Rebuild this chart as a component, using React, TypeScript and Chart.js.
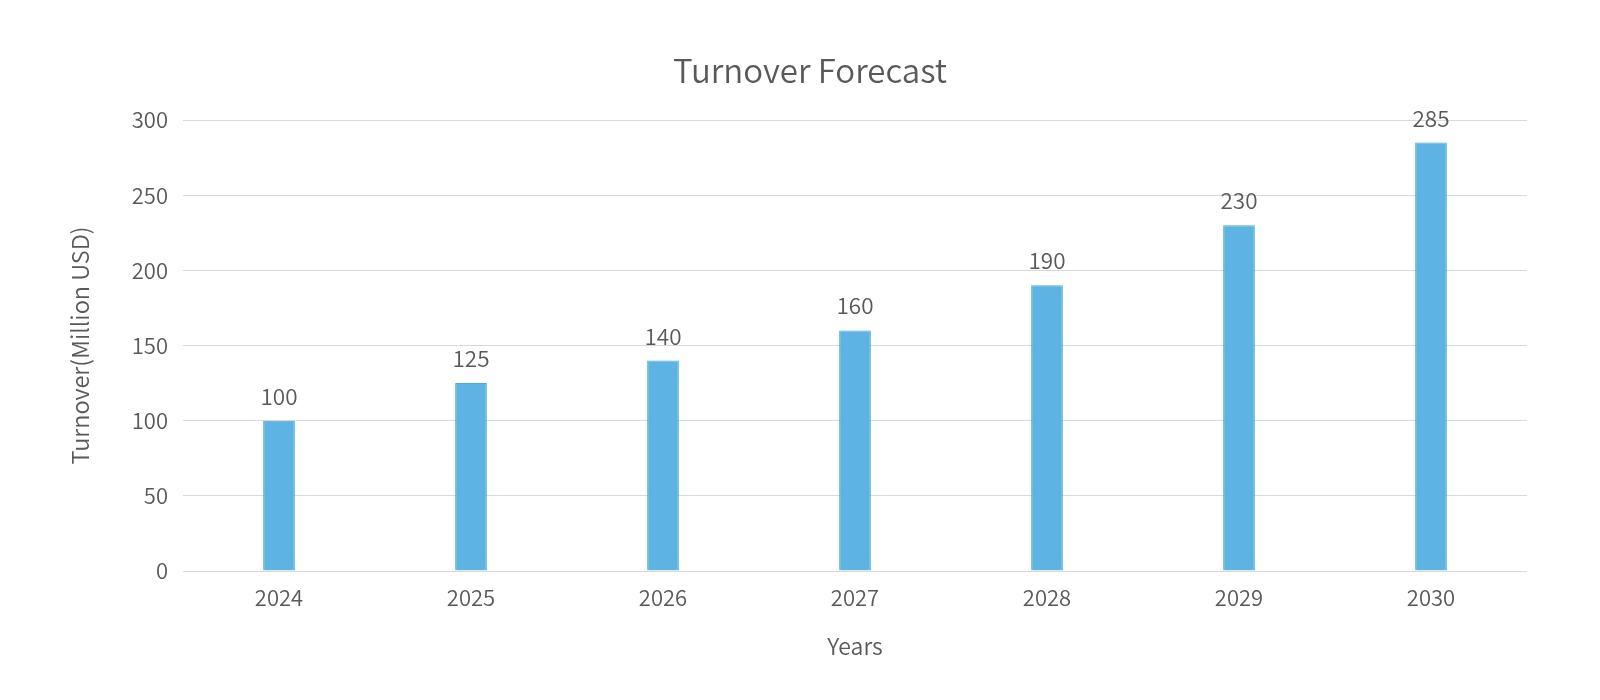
import React, { useEffect, useRef } from "react";
import { Chart, registerables } from "chart.js";

Chart.register(...registerables);

const chartTitle = "Turnover Forecast";
const categories = ["2024", "2025", "2026", "2027", "2028", "2029", "2030"];
const turnover = [100, 125, 140, 160, 190, 230, 285];
const yTicks = [0, 50, 100, 150, 200, 250, 300];

const FONT = "'Noto Sans CJK SC', 'Noto Sans', sans-serif";
const TEXT = "#595959";
const W = "350";

const labelPlugin = {
  id: "barLabels",
  afterDatasetsDraw(chart: any) {
    const ctx = chart.ctx;
    const meta = chart.getDatasetMeta(0);
    ctx.save();
    ctx.font = `${W} 22.5px ${FONT}`;
    ctx.fillStyle = TEXT;
    ctx.textAlign = "center";
    ctx.textBaseline = "alphabetic";
    meta.data.forEach((bar: any, i: number) => {
      ctx.fillText(String(turnover[i]), bar.x, bar.y - 16);
    });
    ctx.restore();
  },
};

const titlePlugin = {
  id: "customTitle",
  afterDraw(chart: any) {
    const ctx = chart.ctx;
    ctx.save();
    ctx.font = `${W} 33px ${FONT}`;
    ctx.fillStyle = TEXT;
    ctx.textAlign = "center";
    ctx.textBaseline = "middle";
    ctx.fillText(chartTitle, 810, 70);
    ctx.restore();
  },
};

export default function App() {
  const ref = useRef<HTMLCanvasElement>(null);
  useEffect(() => {
    if (!ref.current) return;
    const chart = new Chart(ref.current, {
      type: "bar",
      data: {
        labels: categories,
        datasets: [
          {
            data: turnover,
            backgroundColor: "#5DB3E1",
            borderColor: "#4FA8DC",
            borderWidth: 1,
            barPercentage: 0.165,
            categoryPercentage: 1,
          },
        ],
      },
      plugins: [labelPlugin, titlePlugin],
      options: {
        animation: false,
        responsive: false,
        maintainAspectRatio: false,
        layout: { padding: { left: 0, right: 73, top: 120, bottom: 40 } },
        plugins: {
          legend: { display: false },
          tooltip: { enabled: false },
          title: { display: false },
        },
        scales: {
          x: {
            grid: { display: false },
            border: { display: false },
            ticks: {
              color: TEXT,
              font: { family: FONT, size: 22, weight: W },
              padding: 5,
            },
            title: {
              display: true,
              text: "Years",
              color: TEXT,
              font: { family: FONT, size: 23, weight: W },
              padding: { top: 0, bottom: 0 },
            },
            afterFit(scale: any) {
              scale.height = 89;
            },
          },
          y: {
            min: 0,
            max: 300,
            afterBuildTicks(scale: any) {
              scale.ticks = yTicks.map((v) => ({ value: v }));
            },
            grid: { color: "#D9D9D9", drawTicks: false, lineWidth: 1 },
            border: { display: false },
            ticks: {
              color: TEXT,
              font: { family: FONT, size: 22, weight: W },
              padding: 15,
            },
            title: {
              display: true,
              text: "Turnover(Million USD)",
              color: TEXT,
              font: { family: FONT, size: 23.5, weight: W },
              padding: { top: 66, bottom: 0 },
            },
            afterFit(scale: any) {
              scale.width = 183;
            },
          },
        },
      },
    });
    return () => chart.destroy();
  }, []);
  return (
    <div style={{ position: "fixed", left: 0, top: 0, width: 1600, height: 700, background: "#fff" }}>
      <canvas ref={ref} width={1600} height={700} style={{ width: 1600, height: 700 }} />
    </div>
  );
}
